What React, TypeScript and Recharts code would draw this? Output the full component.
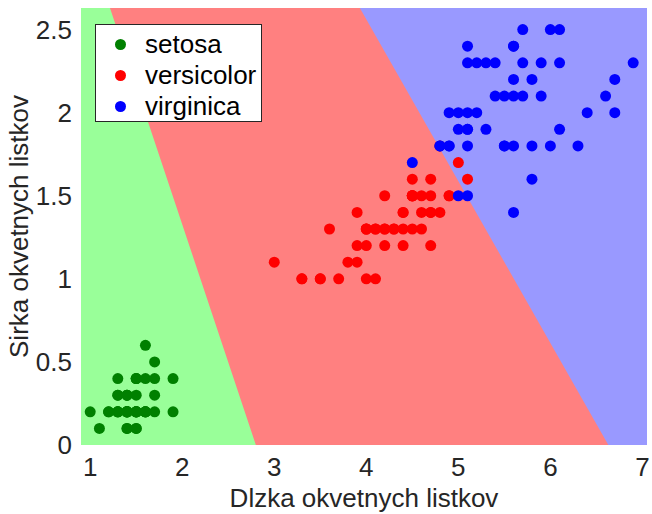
import {
  Area,
  ComposedChart,
  ReferenceArea,
  Scatter,
  XAxis,
  YAxis,
} from 'recharts'

// petal length / width from the iris set
const setosaLength = [1.4, 1.4, 1.3, 1.5, 1.4, 1.7, 1.4, 1.5, 1.4, 1.5, 1.5, 1.6, 1.4, 1.1, 1.2, 1.5, 1.3, 1.4, 1.7, 1.5, 1.7, 1.5, 1.0, 1.7, 1.9, 1.6, 1.6, 1.5, 1.4, 1.6, 1.6, 1.5, 1.5, 1.4, 1.5, 1.2, 1.3, 1.4, 1.3, 1.5, 1.3, 1.3, 1.3, 1.6, 1.9, 1.4, 1.6, 1.4, 1.5, 1.4]
const setosaWidth = [0.2, 0.2, 0.2, 0.2, 0.2, 0.4, 0.3, 0.2, 0.2, 0.1, 0.2, 0.2, 0.1, 0.1, 0.2, 0.4, 0.4, 0.3, 0.3, 0.3, 0.2, 0.4, 0.2, 0.5, 0.2, 0.2, 0.4, 0.2, 0.2, 0.2, 0.2, 0.4, 0.1, 0.2, 0.2, 0.2, 0.2, 0.1, 0.2, 0.2, 0.3, 0.3, 0.2, 0.6, 0.4, 0.3, 0.2, 0.2, 0.2, 0.2]
const versicolorLength = [4.7, 4.5, 4.9, 4.0, 4.6, 4.5, 4.7, 3.3, 4.6, 3.9, 3.5, 4.2, 4.0, 4.7, 3.6, 4.4, 4.5, 4.1, 4.5, 3.9, 4.8, 4.0, 4.9, 4.7, 4.3, 4.4, 4.8, 5.0, 4.5, 3.5, 3.8, 3.7, 3.9, 5.1, 4.5, 4.5, 4.7, 4.4, 4.1, 4.0, 4.4, 4.6, 4.0, 3.3, 4.2, 4.2, 4.2, 4.3, 3.0, 4.1]
const versicolorWidth = [1.4, 1.5, 1.5, 1.3, 1.5, 1.3, 1.6, 1.0, 1.3, 1.4, 1.0, 1.5, 1.0, 1.4, 1.3, 1.4, 1.5, 1.0, 1.5, 1.1, 1.8, 1.3, 1.5, 1.2, 1.3, 1.4, 1.4, 1.7, 1.5, 1.0, 1.1, 1.0, 1.2, 1.6, 1.5, 1.6, 1.5, 1.3, 1.3, 1.3, 1.2, 1.4, 1.2, 1.0, 1.3, 1.2, 1.3, 1.3, 1.1, 1.3]
const virginicaLength = [6.0, 5.1, 5.9, 5.6, 5.8, 6.6, 4.5, 6.3, 5.8, 6.1, 5.1, 5.3, 5.5, 5.0, 5.1, 5.3, 5.5, 6.7, 6.9, 5.0, 5.7, 4.9, 6.7, 4.9, 5.7, 6.0, 4.8, 4.9, 5.6, 5.8, 6.1, 6.4, 5.6, 5.1, 5.6, 6.1, 5.6, 5.5, 4.8, 5.4, 5.6, 5.1, 5.1, 5.9, 5.7, 5.2, 5.0, 5.2, 5.4, 5.1]
const virginicaWidth = [2.5, 1.9, 2.1, 1.8, 2.2, 2.1, 1.7, 1.8, 1.8, 2.5, 2.0, 1.9, 2.1, 2.0, 2.4, 2.3, 1.8, 2.2, 2.3, 1.5, 2.3, 2.0, 2.0, 1.8, 2.1, 1.8, 1.8, 1.8, 2.1, 1.6, 1.9, 2.0, 2.2, 1.5, 1.4, 2.3, 2.4, 1.8, 1.8, 2.1, 2.4, 2.3, 1.9, 2.3, 2.5, 2.3, 1.9, 2.0, 2.3, 1.8]

// classifier regions: upper edge of each region along x
const regionX = [0.9, 1.215, 2.8, 3.93, 6.63, 7.05]
const greenTop = [2.63, 2.63, 0, 0, 0, 0]
const redTop = [2.63, 2.63, 2.63, 2.63, 0, 0]

const xTicks = [1, 2, 3, 4, 5, 6, 7]
const yTicks = [0, 0.5, 1, 1.5, 2, 2.5]

const classes = [
  { name: 'setosa', color: '#008000', len: setosaLength, wid: setosaWidth },
  { name: 'versicolor', color: '#ff0000', len: versicolorLength, wid: versicolorWidth },
  { name: 'virginica', color: '#0000ff', len: virginicaLength, wid: virginicaWidth },
]

const font = '"Liberation Sans", Arial, Helvetica, sans-serif'
const tickStyle = { fontSize: 26, fill: '#262626', fontFamily: font }

export default function App() {
  const regions = regionX.map((x, i) => ({ x, green: greenTop[i], red: redTop[i] }))

  return (
    <div style={{ position: 'fixed', left: 0, top: 0, width: 652, height: 514, background: '#fff' }}>
      <ComposedChart
        width={652}
        height={514}
        data={regions}
        margin={{ top: 8, right: 5, left: 0, bottom: 0 }}
      >
        <XAxis
          dataKey="x"
          type="number"
          domain={[0.9, 7.05]}
          allowDataOverflow
          ticks={xTicks}
          tickLine={false}
          axisLine={false}
          tickSize={0}
          tickMargin={13}
          tick={tickStyle}
          height={69}
          label={{
            value: 'Dlzka okvetnych listkov',
            position: 'insideBottom',
            offset: 7,
            style: { fontSize: 26, fill: '#262626', fontFamily: font },
          }}
        />
        <YAxis
          type="number"
          domain={[0, 2.63]}
          allowDataOverflow
          ticks={yTicks}
          tickLine={false}
          axisLine={false}
          tickSize={0}
          tickMargin={9}
          tick={tickStyle}
          width={81}
          label={{
            value: 'Sirka okvetnych listkov',
            angle: -90,
            position: 'center',
            dx: -22,
            style: { fontSize: 26, fill: '#262626', fontFamily: font, textAnchor: 'middle' },
          }}
        />
        <ReferenceArea x1={0.9} x2={7.05} y1={0} y2={2.63} fill="#9999ff" fillOpacity={1} stroke="none" />
        <Area
          type="linear"
          dataKey="red"
          fill="#ff8080"
          fillOpacity={1}
          stroke="none"
          dot={false}
          activeDot={false}
          isAnimationActive={false}
        />
        <Area
          type="linear"
          dataKey="green"
          fill="#99ff99"
          fillOpacity={1}
          stroke="none"
          dot={false}
          activeDot={false}
          isAnimationActive={false}
        />
        {classes.map((c) => (
          <Scatter
            key={c.name}
            name={c.name}
            data={c.len.map((x, i) => ({ x, y: c.wid[i] }))}
            dataKey="y"
            fill={c.color}
            isAnimationActive={false}
            shape={(p: any) => <circle cx={p.cx} cy={p.cy} r={5.5} fill={c.color} />}
          />
        ))}
      </ComposedChart>
      <div
        style={{
          position: 'absolute',
          left: 95,
          top: 24,
          width: 165,
          height: 96,
          background: '#fff',
          border: '1px solid #262626',
          fontFamily: font,
          fontSize: 26,
          color: '#000',
        }}
      >
        {classes.map((c, i) => (
          <div
            key={c.name}
            style={{
              position: 'absolute',
              left: 0,
              top: 3 + i * 31.2,
              height: 32,
              display: 'flex',
              alignItems: 'center',
              whiteSpace: 'nowrap',
            }}
          >
            <span
              style={{
                display: 'inline-block',
                width: 11,
                height: 11,
                borderRadius: '50%',
                background: c.color,
                marginLeft: 19,
                marginRight: 19,
              }}
            />
            <span>{c.name}</span>
          </div>
        ))}
      </div>
    </div>
  )
}
